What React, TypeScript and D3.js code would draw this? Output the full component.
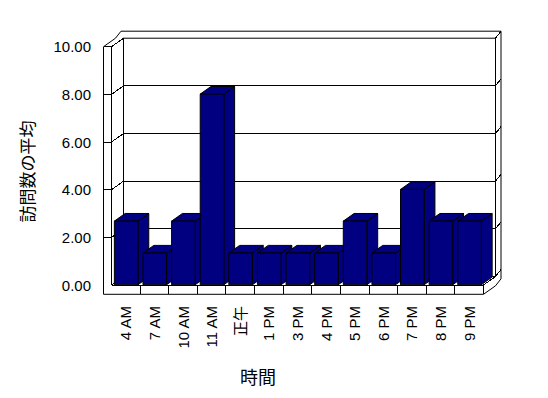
import React from 'react';
import * as d3 from 'd3';

const categories = ['4 AM', '7 AM', '10 AM', '11 AM', '正午', '1 PM', '3 PM', '4 PM', '5 PM', '6 PM', '7 PM', '8 PM', '9 PM'];
const values = [2.67, 1.33, 2.67, 8, 1.33, 1.33, 1.33, 1.33, 2.67, 1.33, 4, 2.67, 2.67];
const yTicks = [0, 2, 4, 6, 8, 10];
const yTitle = '訪問数の平均';
const xTitle = '時間';

const W = 548, H = 398;
const DX = 12, DY = 8.5;   // depth of the plot box
const TX = 5.5, TY = 7;    // wall thickness behind it
const left = 111.5, right = 483.5, wallX = 103.5, floorH = 9.3;
const barColor = '#000080';
const font = "'Liberation Sans', Arial, 'Noto Sans CJK JP', sans-serif";

const pts = (a: number[][]) => a.map(d => d.join(',')).join(' ');

export default function App() {
  const slot = d3.scaleBand<string>().domain(categories).range([left, right]);
  const x = d3.scaleBand<string>().domain(categories).range([left, right])
    .paddingInner(0.175).paddingOuter(0.0875);
  const y = d3.scaleLinear().domain([0, 10]).range([285, 46.7]);
  const p = (px: number, v: number, z: number) => [px + z * DX, y(v) - z * DY];

  const y0 = y(0), yT = y(10), yB = y0 + floorH;
  const bx0 = left + DX, bx1 = right + DX;

  const outer = [
    [wallX, yB], [wallX, yT], [wallX + DX, yT - DY], [wallX + DX + TX, yT - DY - TY],
    [bx1 + TX, yT - DY - TY], [bx1 + TX, yB - DY - TY], [bx1, yB - DY], [right, yB],
  ];

  const lines: number[][][] = [
    [[wallX, yT], [left, yT]],
    [[left, yT], [left, y0]],
    [[left, y0], [right, y0]],
    [[right, y0], [right, yB]],
    [[left, yT], [bx0, yT - DY]],
    [[left, y0], [bx0, y0 - DY]],
    [[right, y0], [bx1, y0 - DY]],
    [[bx1, y0 - DY], [bx1 + TX, y0 - DY - TY]],
    [[bx1, yT - DY], [bx1 + TX, yT - DY - TY]],
  ];
  yTicks.filter(v => v > 0 && v < 10).forEach(v => {
    const yy = y(v);
    lines.push([[wallX, yy], [left, yy]]);
    lines.push([[left, yy], [bx0, yy - DY]]);
    lines.push([[bx0, yy - DY], [bx1, yy - DY]]);
    lines.push([[bx1, yy - DY], [bx1 + TX, yy - DY - TY]]);
  });
  categories.slice(1).forEach(c => {
    const xx = slot(c)!;
    lines.push([[xx, y0], [xx, yB]]);
  });

  const z0 = 0.03, z1 = 0.93;
  const bw = x.bandwidth();

  return (
    <svg width={W} height={H} style={{ position: 'absolute', left: 0, top: 0, background: '#fff' }}
      fontFamily={font}>
      <polygon points={pts(outer)} fill="#fff" stroke="#000" />
      <rect x={bx0} y={yT - DY} width={bx1 - bx0} height={y0 - yT} fill="#fff" stroke="#000" />
      <g stroke="#000" fill="none" shapeRendering="crispEdges">
        {lines.map((l, i) => (
          <line key={i} x1={l[0][0]} y1={l[0][1]} x2={l[1][0]} y2={l[1][1]} />
        ))}
      </g>
      <g fill={barColor} stroke="#000" strokeLinejoin="miter">
        {categories.map((c, i) => {
          const a = x(c)!, b = a + bw, v = values[i];
          const front = [p(a, v, z0), p(b, v, z0), p(b, 0, z0), p(a, 0, z0)];
          const top = [p(a, v, z0), p(b, v, z0), p(b, v, z1), p(a, v, z1)];
          const side = [p(b, v, z0), p(b, 0, z0), p(b, 0, z1), p(b, v, z1)];
          return (
            <g key={c}>
              <polygon points={pts(side)} />
              <polygon points={pts(top)} />
              <polygon points={pts(front)} />
            </g>
          );
        })}
      </g>
      <g fontSize={15} fill="#000" textAnchor="end">
        {yTicks.map(v => (
          <text key={v} x={91} y={y(v)} dominantBaseline="central">{v.toFixed(2)}</text>
        ))}
      </g>
      <g fontSize={15} fill="#000" textAnchor="end">
        {categories.map(c => {
          const cx = slot(c)! + slot.bandwidth() / 2;
          return (
            <text key={c} transform={`translate(${cx},306) rotate(-90)`} dominantBaseline="central">{c}</text>
          );
        })}
      </g>
      <text transform="translate(26,171.5) rotate(-90)" textAnchor="middle" dominantBaseline="central"
        fontSize={17} fontFamily="'Noto Sans CJK JP', sans-serif">{yTitle}</text>
      <text x={258} y={375.5} textAnchor="middle" dominantBaseline="central"
        fontSize={18} fontFamily="'Noto Sans CJK JP', sans-serif">{xTitle}</text>
    </svg>
  );
}
